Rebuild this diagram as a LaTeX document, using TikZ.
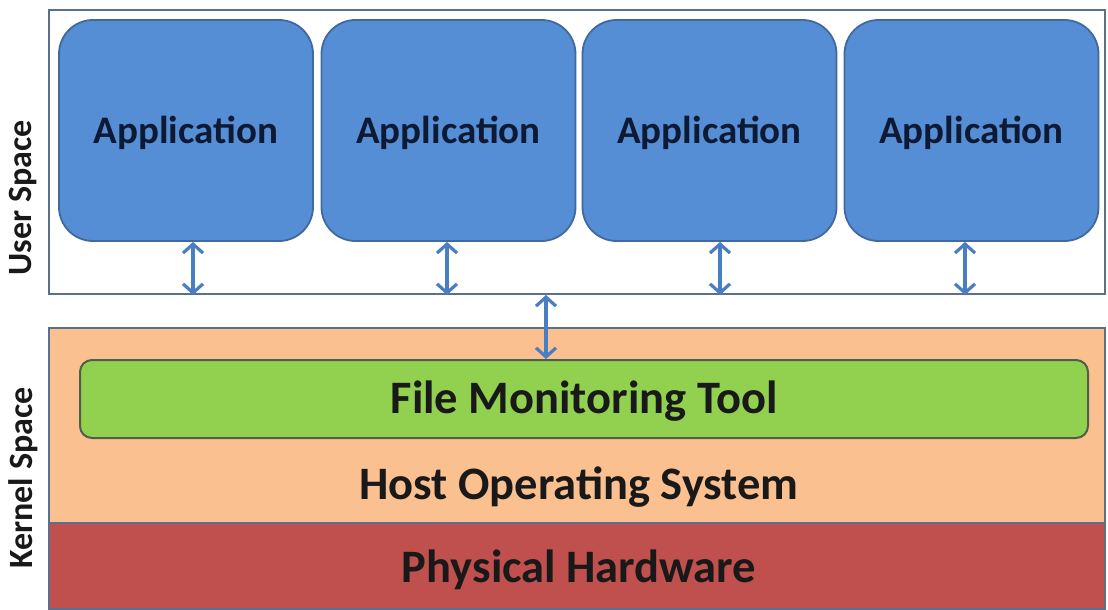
\documentclass[tikz,border=0pt]{standalone}
\usepackage{fontspec}
\setmainfont{Carlito}
\usetikzlibrary{arrows.meta}
\definecolor{appfill}{HTML}{558ED5}
\definecolor{appdraw}{HTML}{41699E}
\definecolor{frame}{HTML}{5B6F8E}
\definecolor{greenfill}{HTML}{92D050}
\definecolor{greendraw}{HTML}{4F5F4A}
\definecolor{orangefill}{HTML}{FAC090}
\definecolor{redfill}{HTML}{C0504D}
\definecolor{arrowblue}{HTML}{4A7EC2}
\definecolor{apptext}{HTML}{0E1A33}
\tikzset{
  appbox/.style={draw=appdraw, line width=1.8pt, fill=appfill, rounded corners=34pt, minimum width=254pt, minimum height=221pt, inner sep=0pt, font=\bfseries\fontsize{39}{42}\selectfont, text=apptext},
  layer/.style={draw=frame, line width=2pt, minimum width=1056pt, inner sep=0pt},
  bigtext/.style={font=\bfseries\fontsize{46.5}{50}\selectfont, text=black!90},
  dblarrow/.style={draw=arrowblue, line width=3.2pt, {Straight Barb[length=9pt,width=20pt]}-{Straight Barb[length=9pt,width=20pt]}},
  sidelabel/.style={rotate=90, font=\bfseries\fontsize{34}{38}\selectfont, text=black!90}
}
\begin{document}
\begin{tikzpicture}[x=1pt,y=-1pt]
\useasboundingbox (0,0) rectangle (1108,610);
% user space
\node[layer, fill=white, minimum height=284pt] (user) at (577,152) {};
\node[appbox] (a1) at (186,130.5) {};
\node[appbox] (a2) at (448.5,130.5) {};
\node[appbox] (a3) at (709.5,130.5) {};
\node[appbox] (a4) at (971.5,130.5) {};
\node[font=\bfseries\fontsize{39}{42}\selectfont, text=apptext] (t1) at (186,133) {Application};
\node[font=\bfseries\fontsize{39}{42}\selectfont, text=apptext] (t2) at (448.5,133) {Application};
\node[font=\bfseries\fontsize{39}{42}\selectfont, text=apptext] (t3) at (709.5,133) {Application};
\node[font=\bfseries\fontsize{39}{42}\selectfont, text=apptext] (t4) at (971.5,133) {Application};
% kernel space
\node[layer, fill=orangefill, minimum height=195pt] (host) at (577,425.5) {};
\node[bigtext] (hostlbl) at (579,487) {Host Operating System};
\node[layer, fill=redfill, minimum height=86pt] (hw) at (577,566) {};
\node[bigtext] (hwlbl) at (579,570) {Physical Hardware};
\node[draw=greendraw, line width=2pt, fill=greenfill, rounded corners=12pt, minimum width=1008pt, minimum height=78pt, inner sep=0pt] (fmt) at (584,399) {};
\node[bigtext] (fmtlbl) at (584,401) {File Monitoring Tool};
% arrows
\coordinate (x1) at (193,0);
\coordinate (x2) at (447,0);
\coordinate (x3) at (720,0);
\coordinate (x4) at (965,0);
\foreach \n/\c in {a1/x1,a2/x2,a3/x3,a4/x4}{
  \draw[dblarrow] (\c |- \n.south) -- (\c |- user.south);
}
\coordinate (mid) at (546,0);
\draw[dblarrow] (mid |- user.south) -- (mid |- fmt.north);
% side labels
\node[sidelabel] (us) at (23,198) {User Space};
\node[sidelabel] (ks) at (23,478) {Kernel Space};
\end{tikzpicture}
\end{document}
